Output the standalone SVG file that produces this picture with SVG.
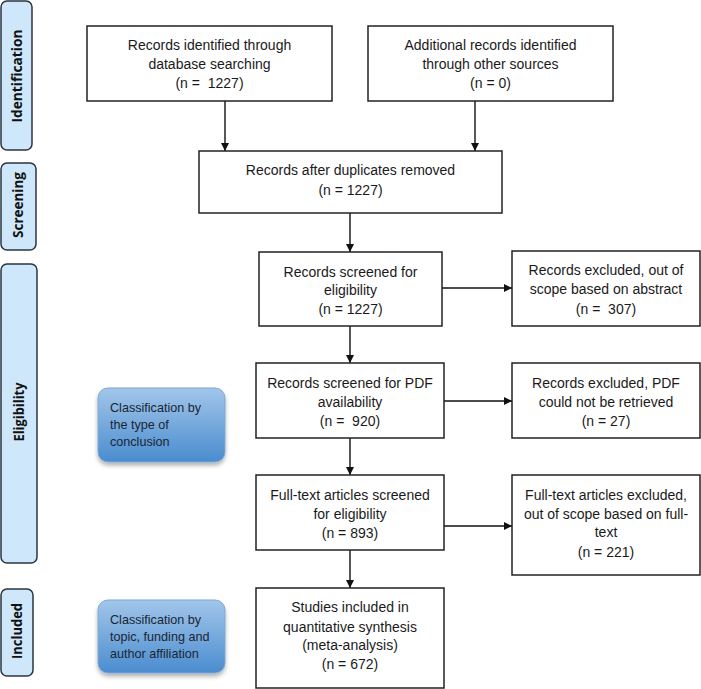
<svg xmlns="http://www.w3.org/2000/svg" width="701" height="689" viewBox="0 0 701 689">
<style>
.box{fill:#fff;stroke:#222;stroke-width:1.5}
.side{fill:#cfe7fa;stroke:#2b3540;stroke-width:1.5}
.t{font-family:"Liberation Sans",Arial,sans-serif;font-size:14px;fill:#1a1a1a;text-anchor:middle}
.s{font-family:"Open Sans","DejaVu Sans",sans-serif;font-size:13.5px;font-weight:bold;fill:#111;text-anchor:middle}
.c{font-family:"Liberation Sans",Arial,sans-serif;font-size:12.6px;fill:#1a2533}
.edge{stroke:#111;stroke-width:1.4;fill:none;marker-end:url(#ah)}
.blue{fill:url(#bg);stroke:#7fa8d4;stroke-width:1;filter:url(#sh)}
</style>
<defs>
<marker id="ah" markerWidth="8" markerHeight="8" refX="8" refY="4" orient="auto" markerUnits="userSpaceOnUse">
<path d="M0,0 L8,4 L0,8 z" fill="#111"/>
</marker>
<linearGradient id="bg" x1="0" y1="0" x2="0" y2="1">
<stop offset="0" stop-color="#a2c6ea"/>
<stop offset="1" stop-color="#4a8ccf"/>
</linearGradient>
<filter id="sh" x="-10%" y="-10%" width="120%" height="130%">
<feDropShadow dx="0" dy="3" stdDeviation="2" flood-color="#000" flood-opacity="0.3"/>
</filter>
</defs>
<rect width="701" height="689" fill="#fff"/>

<g id="side-identification"><rect class="side" x="1" y="1" width="31" height="149" rx="6"/><text class="s" transform="translate(22,76) rotate(-90)" textLength="93" lengthAdjust="spacingAndGlyphs">Identification</text></g>
<g id="side-screening"><rect class="side" x="1" y="163" width="35" height="87" rx="6"/><text class="s" transform="translate(23,205) rotate(-90)" textLength="66" lengthAdjust="spacingAndGlyphs">Screening</text></g>
<g id="side-eligibility"><rect class="side" x="1" y="264" width="36" height="299" rx="6"/><text class="s" transform="translate(24,412) rotate(-90)" textLength="59" lengthAdjust="spacingAndGlyphs">Eligibility</text></g>
<g id="side-included"><rect class="side" x="1" y="589" width="32" height="87" rx="6"/><text class="s" transform="translate(22,631) rotate(-90)" textLength="56" lengthAdjust="spacingAndGlyphs">Included</text></g>

<g id="connectors">
<line class="edge" x1="225" y1="101" x2="225" y2="151"/>
<line class="edge" x1="475" y1="101" x2="475" y2="151"/>
<line class="edge" x1="350" y1="213" x2="350" y2="252"/>
<line class="edge" x1="350" y1="326" x2="350" y2="363"/>
<line class="edge" x1="350" y1="438" x2="350" y2="475"/>
<line class="edge" x1="350" y1="550" x2="350" y2="588"/>
<line class="edge" x1="442" y1="288" x2="512" y2="288"/>
<line class="edge" x1="444" y1="401" x2="512" y2="401"/>
<line class="edge" x1="444" y1="526" x2="512" y2="526"/>
</g>

<g id="n1"><rect class="box" x="87" y="26" width="245" height="75"/>
<text class="t" x="209.5" y="50">Records identified through</text>
<text class="t" x="209.5" y="69">database searching</text>
<text class="t" x="209.5" y="88">(n =&#160; 1227)</text></g>

<g id="n2"><rect class="box" x="368" y="26" width="245" height="75"/>
<text class="t" x="490.5" y="50">Additional records identified</text>
<text class="t" x="490.5" y="69">through other sources</text>
<text class="t" x="490.5" y="88">(n = 0)</text></g>

<g id="n3"><rect class="box" x="199" y="151" width="303" height="62"/>
<text class="t" x="350.5" y="175">Records after duplicates removed</text>
<text class="t" x="350.5" y="195">(n = 1227)</text></g>

<g id="n4"><rect class="box" x="259" y="252" width="183" height="74"/>
<text class="t" x="350.5" y="277">Records screened for</text>
<text class="t" x="350.5" y="295">eligibility</text>
<text class="t" x="350.5" y="314">(n = 1227)</text></g>

<g id="n5"><rect class="box" x="512" y="251" width="188" height="75"/>
<text class="t" x="606" y="275">Records excluded, out of</text>
<text class="t" x="606" y="294">scope based on abstract</text>
<text class="t" x="606" y="314">(n =&#160; 307)</text></g>

<g id="n6"><rect class="box" x="256" y="363" width="188" height="75"/>
<text class="t" x="350" y="388">Records screened for PDF</text>
<text class="t" x="350" y="407">availability</text>
<text class="t" x="350" y="426">(n =&#160; 920)</text></g>

<g id="n7"><rect class="box" x="512" y="363" width="188" height="75"/>
<text class="t" x="606" y="388">Records excluded, PDF</text>
<text class="t" x="606" y="407">could not be retrieved</text>
<text class="t" x="606" y="426">(n = 27)</text></g>

<g id="n8"><rect class="box" x="256" y="475" width="188" height="75"/>
<text class="t" x="350" y="500">Full-text articles screened</text>
<text class="t" x="350" y="519">for eligibility</text>
<text class="t" x="350" y="538">(n = 893)</text></g>

<g id="n9"><rect class="box" x="512" y="475" width="188" height="100"/>
<text class="t" x="606" y="500">Full-text articles excluded,</text>
<text class="t" x="606" y="519">out of scope based on full-</text>
<text class="t" x="606" y="537">text</text>
<text class="t" x="606" y="557">(n = 221)</text></g>

<g id="n10"><rect class="box" x="256" y="588" width="188" height="100"/>
<text class="t" x="350" y="612">Studies included in</text>
<text class="t" x="350" y="632">quantitative synthesis</text>
<text class="t" x="350" y="650">(meta-analysis)</text>
<text class="t" x="350" y="669">(n = 672)</text></g>

<g id="classA"><rect class="blue" x="98" y="388" width="127" height="74" rx="10"/>
<text class="c" x="110" y="412">Classification by</text>
<text class="c" x="110" y="429">the type of</text>
<text class="c" x="110" y="446">conclusion</text></g>

<g id="classB"><rect class="blue" x="98" y="600" width="127" height="73" rx="10"/>
<text class="c" x="110" y="624">Classification by</text>
<text class="c" x="110" y="641">topic, funding and</text>
<text class="c" x="110" y="658">author affiliation</text></g>
</svg>
